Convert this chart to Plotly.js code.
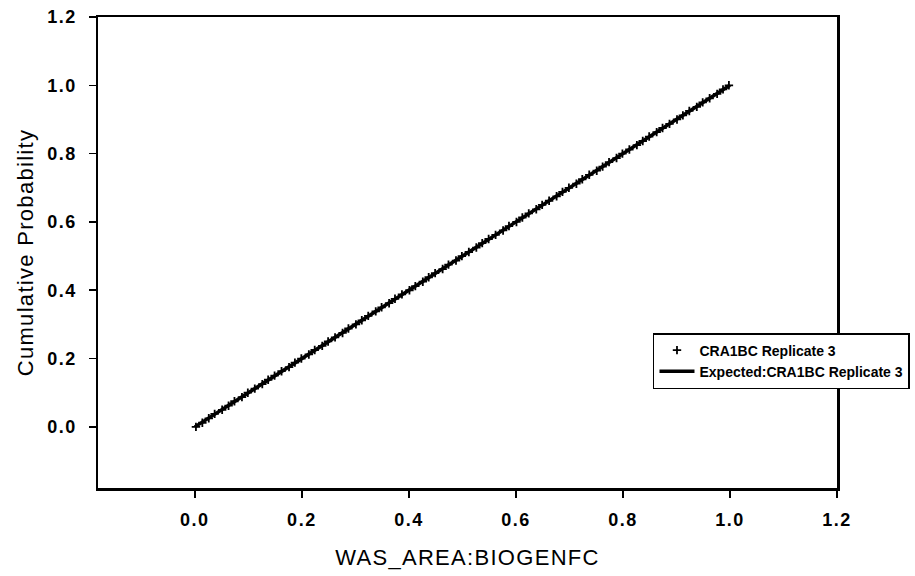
<!DOCTYPE html>
<html><head><meta charset="utf-8">
<script src="https://cdn.plot.ly/plotly-3.0.1.min.js"></script>
<style>
body{margin:0;background:#fff}#c{width:915px;height:576px}
.xtick text,.ytick text{letter-spacing:1.5px}
.g-xtitle text,.g-ytitle text{letter-spacing:1.3px}
</style>
</head><body><div id="c"></div>
<script>
const sampleX = [0.002,0.014,0.026,0.037,0.051,0.063,0.074,0.088,0.099,0.112,0.126,0.137,0.149,0.162,0.176,0.187,0.199,0.213,0.224,0.238,0.249,0.262,0.276,0.287,0.301,0.312,0.324,0.338,0.349,0.363,0.374,0.387,0.401,0.412,0.426,0.437,0.449,0.463,0.474,0.488,0.499,0.512,0.526,0.537,0.549,0.562,0.576,0.587,0.601,0.612,0.624,0.638,0.649,0.662,0.676,0.687,0.699,0.713,0.724,0.737,0.751,0.762,0.774,0.788,0.799,0.812,0.826,0.837,0.849,0.863,0.874,0.887,0.901,0.912,0.924,0.938,0.949,0.962,0.976,0.987,0.998];
const sampleP = [0.000,0.012,0.025,0.038,0.050,0.062,0.075,0.087,0.100,0.112,0.125,0.138,0.150,0.163,0.175,0.188,0.200,0.212,0.225,0.237,0.250,0.262,0.275,0.288,0.300,0.312,0.325,0.338,0.350,0.362,0.375,0.388,0.400,0.412,0.425,0.438,0.450,0.462,0.475,0.487,0.500,0.512,0.525,0.538,0.550,0.562,0.575,0.588,0.600,0.613,0.625,0.637,0.650,0.662,0.675,0.688,0.700,0.712,0.725,0.738,0.750,0.762,0.775,0.787,0.800,0.812,0.825,0.837,0.850,0.863,0.875,0.887,0.900,0.912,0.925,0.937,0.950,0.962,0.975,0.988,1.000];
const expectedX = [0.0, 1.0];
const expectedP = [0.0, 1.0];
const seriesNames = ["CRA1BC Replicate 3", "Expected:CRA1BC Replicate 3"];
const tickVals = [0.0,0.2,0.4,0.6,0.8,1.0,1.2];
const tickText = ["0.0","0.2","0.4","0.6","0.8","1.0","1.2"];
const xTitle = "WAS_AREA:BIOGENFC";
const yTitle = "Cumulative Probability";

const font = "Liberation Sans, Arial, sans-serif";
const data = [
  {x: expectedX, y: expectedP, mode: "lines", type: "scatter", name: seriesNames[1],
   line: {color: "#000", width: 3.5}, legendrank: 2},
  {x: sampleX, y: sampleP, mode: "markers", type: "scatter", name: seriesNames[0],
   marker: {symbol: "cross-thin", size: 6, color: "#000", line: {color: "#000", width: 1.8}}, legendrank: 1}
];
const axisCommon = {
  showgrid: false, zeroline: false, showline: true, linecolor: "#000", linewidth: 2.5,
  mirror: true, ticks: "outside", ticklen: 7, tickwidth: 1.5, tickcolor: "#000",
  tickvals: tickVals, ticktext: tickText,
  tickfont: {family: font, size: 18, color: "#000", weight: "bold"}
};
const layout = {
  width: 915, height: 576,
  margin: {l: 98, r: 78, t: 17, b: 88, autoexpand: false},
  paper_bgcolor: "#fff", plot_bgcolor: "#fff",
  showlegend: true,
  legend: {x: 0.751, y: 0.329, xanchor: "left", yanchor: "top",
    bgcolor: "#fff", bordercolor: "#000", borderwidth: 1.5,
    font: {family: font, size: 14, color: "#000", weight: "bold"},
    tracegroupgap: 0, itemwidth: 35, traceorder: "normal"},
  xaxis: Object.assign({}, axisCommon, {range: [-0.181, 1.2], ticklabelstandoff: 7,
    title: {text: xTitle, font: {family: font, size: 22, color: "#000"}, standoff: 21}}),
  yaxis: Object.assign({}, axisCommon, {range: [-0.179, 1.2], ticklabelstandoff: 8,
    title: {text: yTitle, font: {family: font, size: 22, color: "#000"}, standoff: 8}})
};
Plotly.newPlot("c", data, layout, {displayModeBar: false, staticPlot: true});
</script></body></html>
